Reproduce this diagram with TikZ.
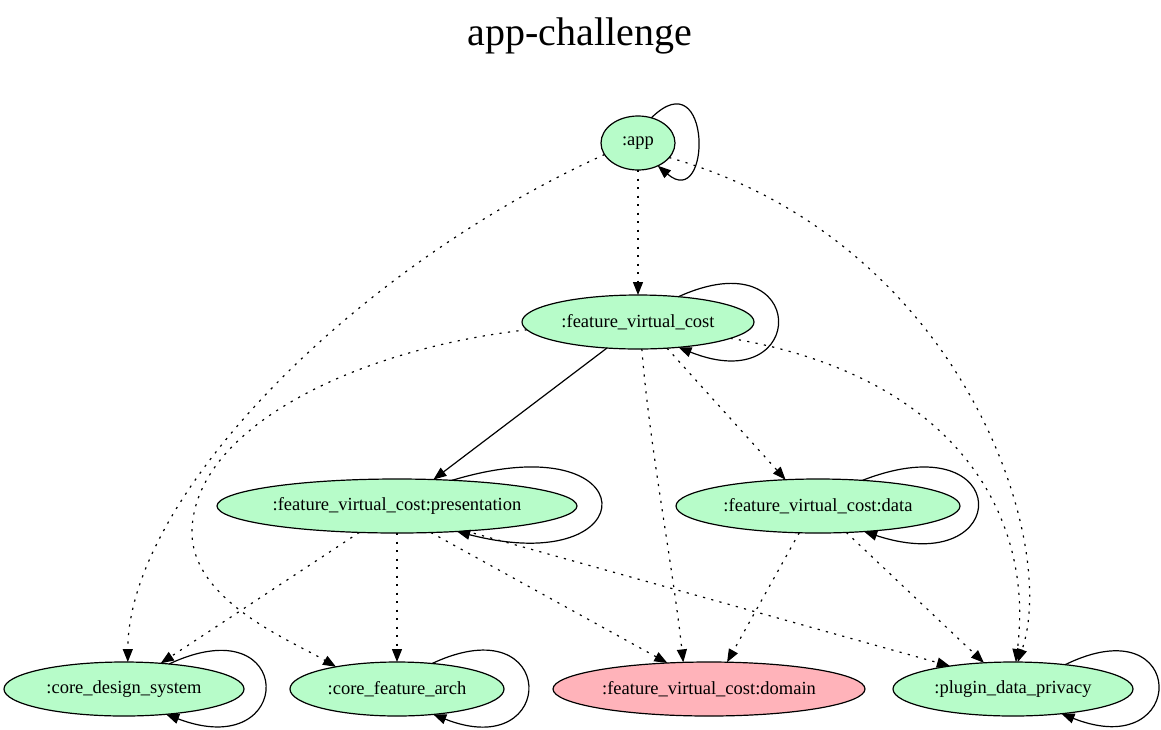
\documentclass[tikz,border=0pt]{standalone}
\usepackage{fontspec}
\setmainfont{Liberation Serif}
\usetikzlibrary{shapes.geometric,arrows.meta}
\definecolor{nodegreen}{RGB}{183,252,201}
\definecolor{nodepink}{RGB}{255,179,186}
\begin{document}
\begin{tikzpicture}[x=1pt,y=-1pt,
  mod/.style={ellipse, draw, line width=1.2pt, fill=nodegreen, inner sep=0pt, outer sep=0pt,
    minimum height=54pt, font=\fontsize{18.5}{20}\selectfont},
  dep/.style={line width=1.2pt, -{Triangle[length=13pt,width=10pt]}},
  dotdep/.style={dep, dash pattern=on 2.2pt off 6.3pt}]
\useasboundingbox (0,0) rectangle (1161,729);
\fill[white] (0,0) rectangle (1161,729);
\node (title) at (580,36) {\fontsize{40}{44}\selectfont app-challenge};
\node[mod, minimum width=74pt] (app) at (638,143) {:app};
\node[mod, minimum width=232pt] (fvc) at (638,322) {:feature\_virtual\_cost};
\node[mod, minimum width=360pt] (pres) at (397,506) {:feature\_virtual\_cost:presentation};
\node[mod, minimum width=284pt] (data) at (818,506) {:feature\_virtual\_cost:data};
\node[mod, minimum width=240pt] (cds) at (124,689) {:core\_design\_system};
\node[mod, minimum width=214pt] (cfa) at (397,689) {:core\_feature\_arch};
\node[mod, fill=nodepink, minimum width=312pt] (dom) at (709,689) {:feature\_virtual\_cost:domain};
\node[mod, minimum width=240pt] (pdp) at (1013,689) {:plugin\_data\_privacy};
% self loops
\draw[dep] (app.62) .. controls (712,58) and (712,212) .. (app.-49);
\draw[dep] (fvc.32) .. controls (810,237) and (810,400) .. (fvc.-32);
\draw[dep] (pres.25) .. controls (649,421) and (649,581) .. (pres.-23);
\draw[dep] (data.30) .. controls (1015,421) and (1015,581) .. (data.-29);
\draw[dep] (cds.29) .. controls (297,604) and (297,764) .. (cds.-31);
\draw[dep] (cfa.36) .. controls (559,604) and (559,764) .. (cfa.-35);
\draw[dep] (pdp.25) .. controls (1189,604) and (1189,764) .. (pdp.-27);
% app edges
\draw[dotdep] (app.south) -- (fvc.north);
\draw[dotdep] (app.199) .. controls (350,270) and (128,500) .. (cds.82);
\draw[dotdep] (app.-25) .. controls (960,240) and (1060,540) .. (pdp.80);
% fvc edges
\draw[dep] (fvc.220) -- (pres.36);
\draw[dotdep] (fvc.184) .. controls (350,350) and (195,430) .. (192,530)
   .. controls (190,600) and (290,640) .. (cfa.160);
\draw[dotdep] (fvc.-82) .. controls (650,450) and (672,560) .. (dom.134);
\draw[dotdep] (fvc.-42) -- (data.141);
\draw[dotdep] (fvc.-10) .. controls (950,375) and (1035,510) .. (pdp.84);
% presentation edges
\draw[dotdep] (pres.215) -- (cds.35);
\draw[dotdep] (pres.south) -- (cfa.north);
\draw[dotdep] (pres.-38) -- (dom.148);
\draw[dotdep] (pres.-20) -- (pdp.160);
% data edges
\draw[dotdep] (data.235) -- (dom.56);
\draw[dotdep] (data.-43) -- (pdp.138);
\end{tikzpicture}
\end{document}
